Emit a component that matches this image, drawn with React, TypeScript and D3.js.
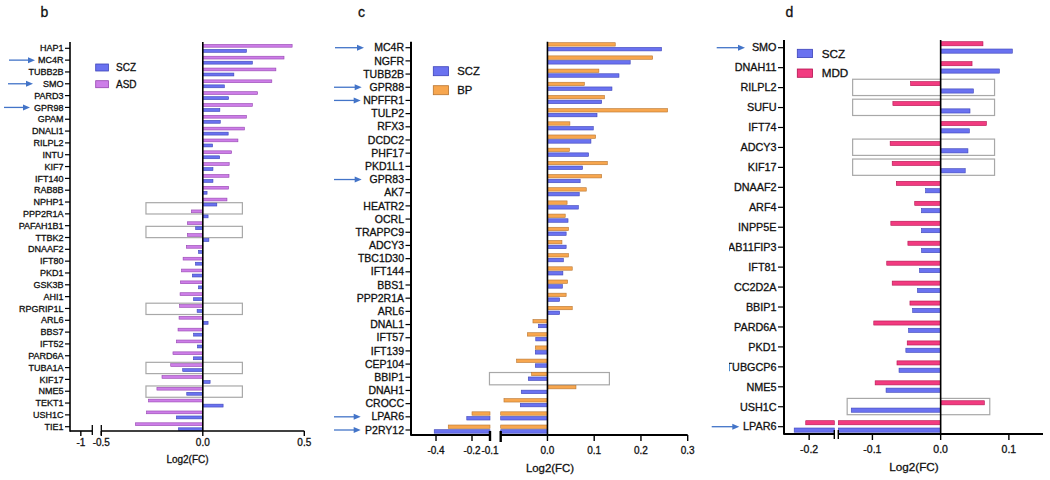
import React from 'react';
import * as d3 from 'd3';

// ---------------- DATA ----------------
const bGenes = ['HAP1','MC4R','TUBB2B','SMO','PARD3','GPR98','GPAM','DNALI1','RILPL2','INTU','KIF7','IFT140','RAB8B','NPHP1','PPP2R1A','PAFAH1B1','TTBK2','DNAAF2','IFT80','PKD1','GSK3B','AHI1','RPGRIP1L','ARL6','BBS7','IFT52','PARD6A','TUBA1A','KIF17','NME5','TEKT1','USH1C','TIE1'];
const bASD = [0.44,0.40,0.36,0.34,0.27,0.244,0.215,0.205,0.173,0.142,0.13,0.129,0.127,0.119,-0.056,-0.076,-0.076,-0.081,-0.097,-0.104,-0.11,-0.112,-0.114,-0.117,-0.122,-0.13,-0.147,-0.158,-0.201,-0.226,-0.267,-0.277,-0.332];
const bSCZ = [0.215,0.244,0.153,0.106,0.127,0.084,0.086,0.125,0.048,0.083,0.05,0.05,0.021,0.069,0.026,-0.035,0.03,-0.021,-0.036,-0.051,-0.021,-0.046,-0.028,0.026,-0.045,-0.026,-0.046,-0.099,0.036,-0.079,0.10,-0.13,-0.12];
const bTicks = [-1, -0.5, 0, 0.5];
const bTickLabels = ['-1', '-0.5', '0.0', '0.5'];
const bBoxes = [
  { genes: ['NPHP1', 'PPP2R1A'], lo: -0.28, hi: 0.195 },
  { genes: ['PAFAH1B1', 'TTBK2'], lo: -0.28, hi: 0.195 },
  { genes: ['RPGRIP1L'], lo: -0.28, hi: 0.195 },
  { genes: ['TUBA1A'], lo: -0.28, hi: 0.195 },
  { genes: ['NME5'], lo: -0.28, hi: 0.195 },
];
const bArrows = ['MC4R', 'SMO', 'GPR98'];

const cGenes = ['MC4R','NGFR','TUBB2B','GPR88','NPFFR1','TULP2','RFX3','DCDC2','PHF17','PKD1L1','GPR83','AK7','HEATR2','OCRL','TRAPPC9','ADCY3','TBC1D30','IFT144','BBS1','PPP2R1A','ARL6','DNAL1','IFT57','IFT139','CEP104','BBIP1','DNAH1','CROCC','LPAR6','P2RY12'];
const cBP = [0.145,0.225,0.11,0.079,0.122,0.257,0.048,0.103,0.047,0.128,0.116,0.083,0.042,0.038,0.045,0.031,0.045,0.053,0.043,0.04,0.053,-0.031,-0.043,-0.026,-0.066,-0.034,0.061,-0.093,-0.2,-0.332];
const cSCZ = [0.244,0.177,0.153,0.138,0.116,0.106,0.098,0.093,0.088,0.075,0.07,0.068,0.066,0.044,0.04,0.04,0.034,0.033,0.032,0.026,0.026,-0.019,-0.025,-0.026,-0.026,-0.041,-0.056,-0.058,-0.229,-0.41];
const cTicks = [-0.4, -0.2, -0.1, 0, 0.1, 0.2, 0.3];
const cTickLabels = ['-0.4', '-0.2', '-0.1', '0.0', '0.1', '0.2', '0.3'];
const cBoxes = [{ genes: ['BBIP1'], lo: -0.103, hi: 0.1325 }];
const cArrows = ['MC4R', 'GPR88', 'NPFFR1', 'GPR83', 'LPAR6', 'P2RY12'];

const dGenes = ['SMO','DNAH11','RILPL2','SUFU','IFT74','ADCY3','KIF17','DNAAF2','ARF4','INPP5E','RAB11FIP3','IFT81','CC2D2A','BBIP1','PARD6A','PKD1','TUBGCP6','NME5','USH1C','LPAR6'];
const dMDD = [0.062,0.046,-0.044,-0.07,0.067,-0.074,-0.071,-0.065,-0.038,-0.073,-0.048,-0.079,-0.071,-0.045,-0.098,-0.049,-0.064,-0.096,0.064,-0.205];
const dSCZ = [0.105,0.086,0.048,0.043,0.042,0.04,0.036,-0.022,-0.028,-0.028,-0.028,-0.031,-0.034,-0.041,-0.047,-0.051,-0.061,-0.08,-0.131,-0.222];
const dTicks = [-0.2, -0.1, 0, 0.1];
const dTickLabels = ['-0.2', '-0.1', '0.0', '0.1'];
const dBoxes = [
  { genes: ['RILPL2'], lo: -0.129, hi: 0.079 },
  { genes: ['SUFU'], lo: -0.129, hi: 0.079 },
  { genes: ['ADCY3'], lo: -0.129, hi: 0.079 },
  { genes: ['KIF17'], lo: -0.129, hi: 0.079 },
  { genes: ['USH1C'], lo: -0.137, hi: 0.072 },
];
const dArrows = ['SMO', 'LPAR6'];

// ---------------- STYLE ----------------
const FONT = '"Liberation Sans", Arial, Helvetica, sans-serif';
const C_SCZ = '#6a72f0', S_SCZ = '#3d44b8';
const C_ASD = '#cd7ee8', S_ASD = '#9444b0';
const C_BP = '#f7a64e', S_BP = '#b87530';
const C_MDD = '#f23b80', S_MDD = '#b3124f';
const ARROW = '#4374c8';
const BOX = '#a8a8a8';
const TXT = { fill: '#111', stroke: '#111', strokeWidth: 0.3 };

type Seg = { d: [number, number]; r: [number, number] };

function broken(segs: Seg[]) {
  const sc = segs.map((s) => d3.scaleLinear().domain(s.d).range(s.r));
  const pos = (v: number) => {
    for (let i = 0; i < segs.length; i++) {
      const [a, b] = segs[i].d;
      if (v >= a - 1e-9 && v <= b + 1e-9) return sc[i](v);
    }
    return sc[sc.length - 1](v);
  };
  const pieces = (v: number) => {
    const out: { x: number; w: number }[] = [];
    const lo0 = Math.min(0, v), hi0 = Math.max(0, v);
    segs.forEach((s, i) => {
      const lo = Math.max(lo0, s.d[0]);
      const hi = Math.min(hi0, s.d[1]);
      if (hi > lo) out.push({ x: sc[i](lo), w: sc[i](hi) - sc[i](lo) });
    });
    return out;
  };
  return { segs, sc, pos, pieces };
}

function Panel(p: any) {
  const y = d3.scalePoint<string>().domain(p.genes).range(p.rowRange);
  const xs = broken(p.segs);
  const zeroX = xs.pos(0);
  const series = p.series;
  return (
    <g fontFamily={FONT}>
      <text x={p.letter.x} y={p.letter.y} fontSize={14} {...TXT}>{p.letter.t}</text>
      {p.boxes.map((b: any, i: number) => {
        const cy = d3.mean(b.genes.map((g: string) => y(g) as number))! + p.boxDy;
        return (
          <rect key={'bx' + i} x={xs.pos(b.lo)} width={xs.pos(b.hi) - xs.pos(b.lo)}
            y={cy - p.boxH / 2} height={p.boxH} fill="none" stroke={BOX} strokeWidth={1.2} />
        );
      })}
      {p.genes.map((g: string, i: number) => (
        <g key={g}>
          {series.map((s: any, k: number) =>
            xs.pieces(s.values[i]).map((pc, j) => (
              <rect key={k + '-' + j} x={pc.x} width={pc.w}
                y={(y(g) as number) + s.dy} height={s.h}
                fill={s.fill} stroke={s.stroke} strokeWidth={0.6} />
            ))
          )}
        </g>
      ))}
      <line x1={zeroX} x2={zeroX} y1={p.top} y2={p.axisY} stroke="#000" strokeWidth={1.6} />
      <line x1={p.axisX} x2={p.axisX} y1={p.top} y2={p.axisY + 0.8} stroke="#000" strokeWidth={p.axisW} />
      <g clipPath={p.labelClip ? 'url(#' + p.labelClip + ')' : undefined}>
        {p.genes.map((g: string) => (
          <g key={'l' + g}>
            <line x1={p.axisX - p.tickLen} x2={p.axisX} y1={y(g)} y2={y(g)} stroke="#000" strokeWidth={1.2} />
            <text x={p.axisX - p.tickLen - 1.5} y={y(g)} dy="0.35em" textAnchor="end"
              fontSize={p.labelSize} {...TXT}>{g}</text>
          </g>
        ))}
      </g>
      {p.arrows.map((g: string, i: number) => {
        const a = p.arrowX[i];
        const yy = y(g) as number;
        return (
          <g key={'a' + g}>
            <line x1={a[0]} x2={a[1] - 5} y1={yy} y2={yy} stroke={ARROW} strokeWidth={1.3} />
            <path d={`M${a[1]},${yy} L${a[1] - 7},${yy - 3} L${a[1] - 7},${yy + 3} Z`} fill={ARROW} />
          </g>
        );
      })}
      {xs.segs.map((s: Seg, i: number) => (
        <line key={'xs' + i} x1={i === 0 ? p.axisX : s.r[0]} x2={s.r[1]} y1={p.axisY} y2={p.axisY}
          stroke="#000" strokeWidth={p.axisW} />
      ))}
      {p.breakMarks.map((m: any, i: number) => (
        <line key={'bm' + i} x1={m.x} x2={m.x} y1={p.axisY - m.up} y2={p.axisY + m.down}
          stroke="#000" strokeWidth={m.w} />
      ))}
      {p.ticks.map((t: number, i: number) => {
        const x = xs.pos(t);
        return (
          <g key={'t' + i}>
            <line x1={x} x2={x} y1={p.axisY} y2={p.axisY + p.xTickLen} stroke="#000" strokeWidth={1.4} />
            <text x={x} y={p.axisY + p.tickLabelDy} textAnchor="middle" fontSize={p.tickSize} {...TXT}>
              {p.tickLabels[i]}
            </text>
          </g>
        );
      })}
      <text x={p.titleX} y={p.titleY} textAnchor="middle" fontSize={p.titleSize} {...TXT}>Log2(FC)</text>
      {p.legend.items.map((it: any, i: number) => (
        <g key={'lg' + i}>
          <rect x={p.legend.x} y={p.legend.y + i * p.legend.gap} width={p.legend.w} height={p.legend.h}
            fill={it.fill} stroke={it.stroke} strokeWidth={0.8} />
          <text x={p.legend.tx} y={p.legend.y + i * p.legend.gap + p.legend.h / 2} dy="0.35em"
            fontSize={p.legend.size} {...TXT}>{it.name}</text>
        </g>
      ))}
    </g>
  );
}

export default function App() {
  return (
    <svg width={1050} height={480} style={{ position: 'absolute', left: 0, top: 0, background: '#fff' }}>
      <defs>
        <clipPath id="dclip"><rect x={729} y={0} width={330} height={480} /></clipPath>
      </defs>
      <rect x={0} y={0} width={1050} height={480} fill="#fff" />
      <Panel
        letter={{ t: 'b', x: 40.5, y: 17.3 }}
        genes={bGenes}
        rowRange={[48.3, 426.7]}
        top={42} axisY={431} axisX={70} axisW={1.6}
        segs={[{ d: [-1.048, -0.944], r: [71, 92.3] }, { d: [-0.5, 0.5], r: [101.3, 304.3] }]}
        series={[
          { values: bASD, fill: C_ASD, stroke: S_ASD, dy: -3.9, h: 2.8 },
          { values: bSCZ, fill: C_SCZ, stroke: S_SCZ, dy: 1.1, h: 2.9 },
        ]}
        boxes={bBoxes} boxH={11.3} boxDy={0.4}
        tickLen={5} labelSize={9}
        arrows={bArrows} arrowX={[[9, 35], [8, 33], [4, 30]]}
        breakMarks={[{ x: 92.3, up: 6, down: 4, w: 1.3 }, { x: 101.3, up: 6, down: 4, w: 1.3 }]}
        ticks={bTicks} tickLabels={bTickLabels} xTickLen={5} tickLabelDy={15} tickSize={10}
        titleX={187.5} titleY={462.5} titleSize={10}
        legend={{ x: 95.7, y: 64, w: 12.7, h: 7, gap: 16.7, tx: 116, size: 10,
          items: [{ name: 'SCZ', fill: C_SCZ, stroke: S_SCZ }, { name: 'ASD', fill: C_ASD, stroke: S_ASD }] }}
      />
      <Panel
        letter={{ t: 'c', x: 358, y: 16.7 }}
        genes={cGenes}
        rowRange={[47.7, 430]}
        top={41.7} axisY={435} axisX={411} axisW={2}
        segs={[{ d: [-0.539, -0.1], r: [411, 490] }, { d: [-0.1, 0.3], r: [500.7, 687.7] }]}
        series={[
          { values: cBP, fill: C_BP, stroke: S_BP, dy: -5, h: 3.4 },
          { values: cSCZ, fill: C_SCZ, stroke: S_SCZ, dy: -0.3, h: 3.5 },
        ]}
        boxes={cBoxes} boxH={12.3} boxDy={1.4}
        tickLen={5.5} labelSize={10.5}
        arrows={cArrows}
        arrowX={[[335, 364], [334, 361.7], [334, 360.7], [334, 361.7], [334, 360.7], [334, 360.7]]}
        breakMarks={[{ x: 490, up: 4, down: 6, w: 2.4 }, { x: 500.7, up: 4, down: 7, w: 2.4 }]}
        ticks={cTicks} tickLabels={cTickLabels} xTickLen={6} tickLabelDy={18.5} tickSize={10}
        titleX={550} titleY={471.5} titleSize={11.4}
        legend={{ x: 433.3, y: 66.7, w: 15.3, h: 9, gap: 19, tx: 457.3, size: 11.3,
          items: [{ name: 'SCZ', fill: C_SCZ, stroke: S_SCZ }, { name: 'BP', fill: C_BP, stroke: S_BP }] }}
      />
      <Panel
        letter={{ t: 'd', x: 785.5, y: 16.7 }}
        genes={dGenes}
        rowRange={[47.7, 426.7]}
        top={40} axisY={434} axisX={784} axisW={2}
        segs={[{ d: [-0.237, -0.163], r: [784, 834.3] }, { d: [-0.15, 0.15], r: [838.3, 1043] }]}
        series={[
          { values: dMDD, fill: C_MDD, stroke: S_MDD, dy: -6, h: 4.1 },
          { values: dSCZ, fill: C_SCZ, stroke: S_SCZ, dy: 1.3, h: 4.2 },
        ]}
        boxes={dBoxes} boxH={16.3} boxDy={-0.2}
        tickLen={6} labelSize={10.8} labelClip="dclip"
        arrows={dArrows} arrowX={[[716.7, 745], [711.7, 739.3]]}
        breakMarks={[{ x: 834.3, up: 4, down: 5, w: 1.4 }, { x: 838.3, up: 4, down: 5, w: 1.4 }]}
        ticks={dTicks} tickLabels={dTickLabels} xTickLen={6} tickLabelDy={19} tickSize={10.5}
        titleX={914} titleY={471} titleSize={11.7}
        legend={{ x: 797.3, y: 49.3, w: 15.3, h: 8.3, gap: 19.7, tx: 821.7, size: 11.7,
          items: [{ name: 'SCZ', fill: C_SCZ, stroke: S_SCZ }, { name: 'MDD', fill: C_MDD, stroke: S_MDD }] }}
      />
    </svg>
  );
}
